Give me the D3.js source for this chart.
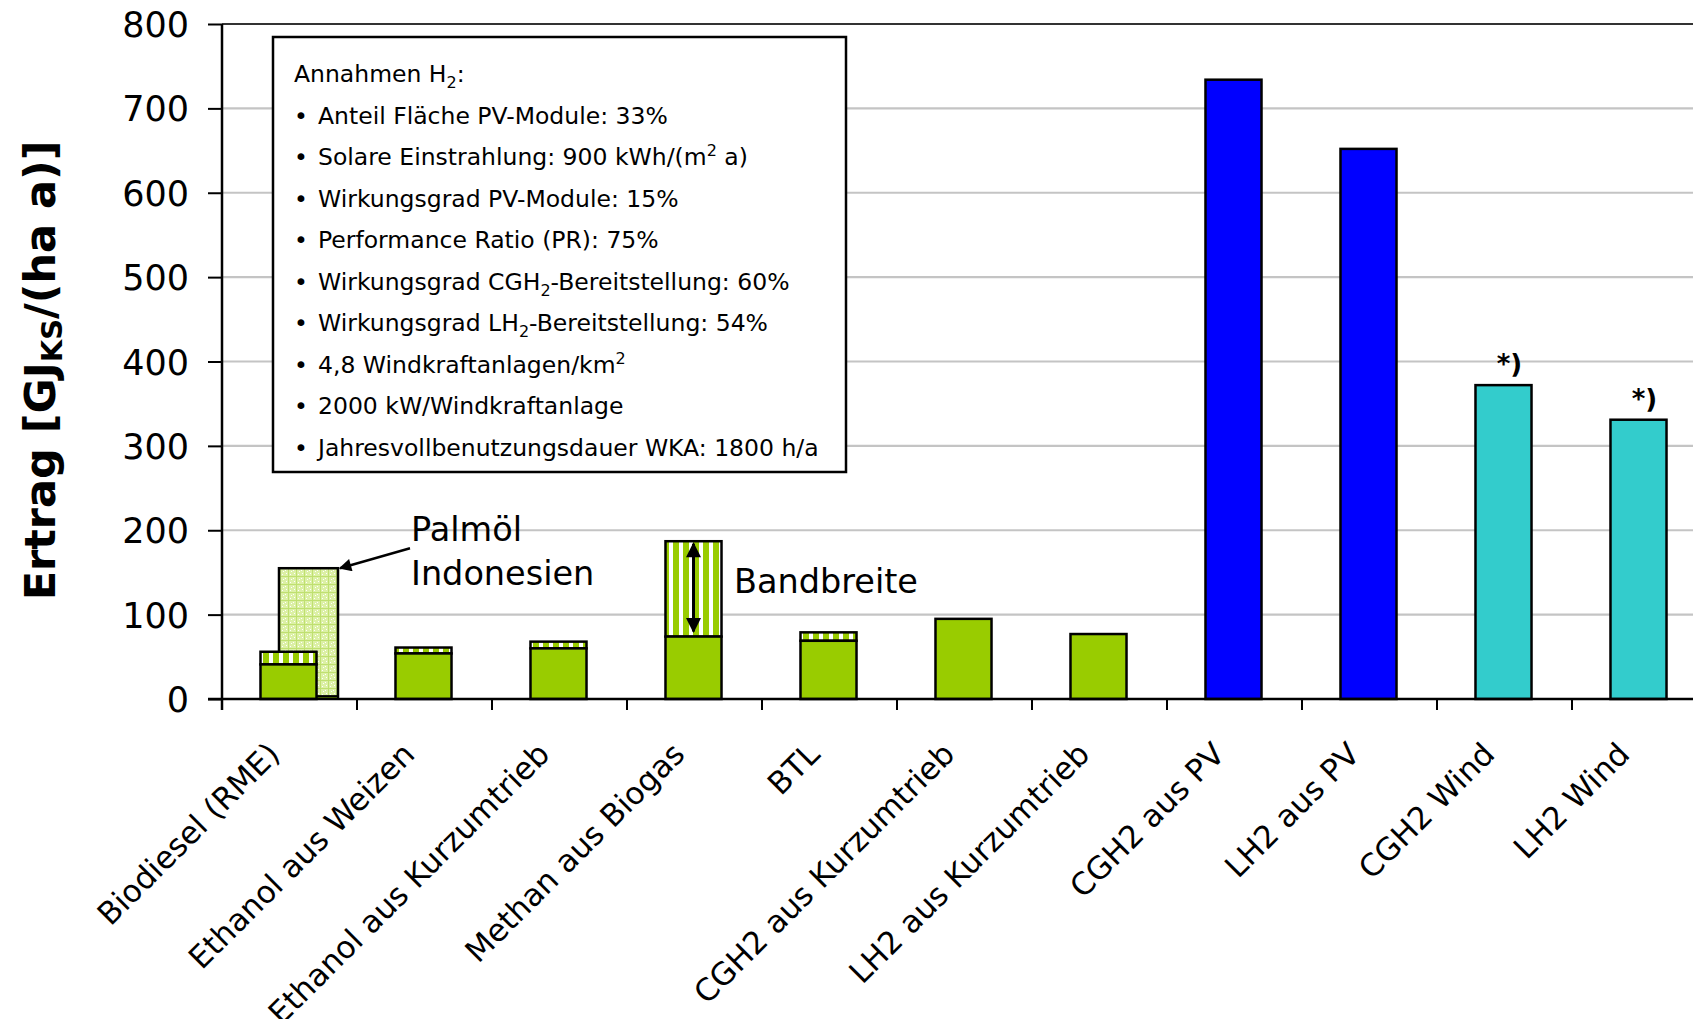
<!DOCTYPE html>
<html>
<head>
<meta charset="utf-8">
<script src="https://cdn.jsdelivr.net/npm/d3@7"></script>
<style>
  body { margin: 0; background: #fff; }
  text { font-family: "DejaVu Sans", Verdana, sans-serif; fill: #000; }
</style>
</head>
<body>
<svg width="1693" height="1019"></svg>
<script>
// data
var categories = ["Biodiesel (RME)", "Ethanol aus Weizen", "Ethanol aus Kurzumtrieb", "Methan aus Biogas", "BTL",
                  "CGH2 aus Kurzumtrieb", "LH2 aus Kurzumtrieb", "CGH2 aus PV", "LH2 aus PV", "CGH2 Wind", "LH2 Wind"];
var baseValues = [41, 54, 60, 74, 69, 95, 77, 734, 652, 372, 331];
var rangeTops  = [56, 61, 68, 187, 79, null, null, null, null, null, null];
var barGroups  = ["bio", "bio", "bio", "bio", "bio", "bio", "bio", "pv", "pv", "wind", "wind"];
var footnotes  = ["", "", "", "", "", "", "", "", "", "*)", "*)"];
var palmCategory = ["Biodiesel (RME)"];
var palmBase     = [3];
var palmTop      = [155];
var yTicks = [0, 100, 200, 300, 400, 500, 600, 700, 800];
var assumptionTitle = [["Annahmen H"], ["2", "sub"], [":"]];
var assumptions = [
  [["Anteil Fläche PV-Module: 33%"]],
  [["Solare Einstrahlung: 900 kWh/(m"], ["2", "sup"], [" a)"]],
  [["Wirkungsgrad PV-Module: 15%"]],
  [["Performance Ratio (PR): 75%"]],
  [["Wirkungsgrad CGH"], ["2", "sub"], ["-Bereitstellung: 60%"]],
  [["Wirkungsgrad LH"], ["2", "sub"], ["-Bereitstellung: 54%"]],
  [["4,8 Windkraftanlagen/km"], ["2", "sup"]],
  [["2000 kW/Windkraftanlage"]],
  [["Jahresvollbenutzungsdauer WKA: 1800 h/a"]]
];

var colors = { bio: "#99cc00", pv: "#0000ff", wind: "#33cccc" };

var svg = d3.select("svg");
var LEFT = 222, TOP = 24, BOTTOM = 699, STEP = 135;

var x = d3.scaleBand().domain(categories).range([LEFT, LEFT + STEP * categories.length]).padding(0);
var y = d3.scaleLinear().domain([0, 800]).range([BOTTOM, TOP]);
var barW = x.bandwidth() * 0.415;
var cx = function(c){ return x(c) + x.bandwidth() / 2 - 1; };

// patterns
var defs = svg.append("defs");
var stripes = defs.append("pattern").attr("id", "stripes")
  .attr("patternUnits", "userSpaceOnUse").attr("width", 10).attr("height", 10);
stripes.append("rect").attr("width", 10).attr("height", 10).style("fill", "#fff");
stripes.append("rect").attr("x", 3).attr("width", 6).attr("height", 10).style("fill", colors.bio);

var palm = defs.append("pattern").attr("id", "palm")
  .attr("patternUnits", "userSpaceOnUse").attr("width", 8).attr("height", 8);
palm.append("rect").attr("width", 8).attr("height", 8).style("fill", "#dcf0a6");
palm.append("rect").attr("width", 8).attr("height", 1).style("fill", "#bfe070");
palm.append("rect").attr("width", 1).attr("height", 8).style("fill", "#bfe070");
[[3, 3], [6, 5], [2, 6], [5, 2]].forEach(function(p){
  palm.append("rect").attr("x", p[0]).attr("y", p[1]).attr("width", 1).attr("height", 1).style("fill", "#fff");
});

defs.append("marker").attr("id", "head")
  .attr("viewBox", "0 0 10 10").attr("refX", 9).attr("refY", 5)
  .attr("markerWidth", 7).attr("markerHeight", 5).attr("markerUnits", "strokeWidth")
  .attr("orient", "auto-start-reverse")
  .append("path").attr("d", "M0,0 L10,5 L0,10 Z").style("fill", "#000");

// grid
svg.append("g").selectAll("line")
  .data(yTicks.filter(function(d){ return d > 0; }))
  .enter().append("line")
    .attr("x1", LEFT).attr("x2", 1693)
    .attr("y1", function(d){ return y(d); }).attr("y2", function(d){ return y(d); })
    .style("stroke", function(d){ return d === 800 ? "#333" : "#c4c4c4"; })
    .style("stroke-width", 2.2);

// y axis
var yAxis = svg.append("g").attr("transform", "translate(" + LEFT + ",0)")
  .call(d3.axisLeft(y).tickValues(yTicks).tickSize(14).tickPadding(19));
yAxis.select(".domain").remove();
yAxis.selectAll(".tick line").style("stroke", "#000").style("stroke-width", 2);
yAxis.selectAll(".tick text").style("font-size", "35px").style("font-family", "DejaVu Sans").attr("dy", "0.36em");

svg.append("text")
  .attr("transform", "translate(55," + ((TOP + BOTTOM) / 2 + 9) + ") rotate(-90)")
  .attr("text-anchor", "middle")
  .style("font-size", "43px").style("font-weight", "bold")
  .call(function(t){
    t.append("tspan").text("Ertrag [GJ");
    t.append("tspan").text("KS").style("font-size", "29px").attr("dy", 7);
    t.append("tspan").text("/(ha a)]").attr("dy", -7);
  });

// Palmöl bar (behind biodiesel)
palmCategory.forEach(function(c, i){
  var px = cx(c) - 9.5;
  svg.append("rect")
    .attr("x", px).attr("y", y(palmTop[i])).attr("width", 59).attr("height", y(palmBase[i]) - y(palmTop[i]))
    .style("fill", "url(#palm)").style("stroke", "#000").style("stroke-width", 2.5);
  svg.append("rect")
    .attr("x", px).attr("y", y(palmBase[i])).attr("width", 59).attr("height", y(0) - y(palmBase[i]))
    .style("fill", colors.bio).style("stroke", "#000").style("stroke-width", 2);
  var ex = px + 59 + 2, ey = y(palmTop[i]);
  svg.append("line")
    .attr("x1", ex + 70).attr("y1", ey - 20).attr("x2", ex).attr("y2", ey)
    .style("stroke", "#000").style("stroke-width", 2.5).attr("marker-end", "url(#head)");
  svg.append("text").attr("x", 411).attr("y", 541).style("font-size", "33.5px").text("Palmöl");
  svg.append("text").attr("x", 411).attr("y", 585).style("font-size", "33.5px").text("Indonesien");
});

// range bars
categories.forEach(function(c, i){
  if (rangeTops[i] == null) return;
  svg.append("rect")
    .attr("x", cx(c) - barW / 2).attr("y", y(rangeTops[i]))
    .attr("width", barW).attr("height", y(baseValues[i]) - y(rangeTops[i]))
    .style("fill", "url(#stripes)").style("stroke", "#000").style("stroke-width", 2.5);
});

// base bars
svg.append("g").selectAll("rect")
  .data(categories)
  .enter().append("rect")
    .attr("x", function(c){ return cx(c) - barW / 2; })
    .attr("y", function(c, i){ return y(baseValues[i]); })
    .attr("width", barW)
    .attr("height", function(c, i){ return y(0) - y(baseValues[i]); })
    .style("fill", function(c, i){ return colors[barGroups[i]]; })
    .style("stroke", "#000").style("stroke-width", 2.5);

// footnote marks
svg.append("g").selectAll("text")
  .data(categories.filter(function(c, i){ return footnotes[i]; }))
  .enter().append("text")
    .attr("x", function(c){ return cx(c) + 6; })
    .attr("y", function(c){ return y(baseValues[categories.indexOf(c)]) - 12; })
    .attr("text-anchor", "middle")
    .style("font-size", "26px").style("font-weight", "bold")
    .text(function(c){ return footnotes[categories.indexOf(c)]; });

// Bandbreite double arrow
var mi = 3;
svg.append("line")
  .attr("x1", cx(categories[mi])).attr("x2", cx(categories[mi]))
  .attr("y1", y(rangeTops[mi] - 3)).attr("y2", y(baseValues[mi] + 6))
  .style("stroke", "#000").style("stroke-width", 3)
  .attr("marker-start", "url(#head)").attr("marker-end", "url(#head)");
svg.append("text").attr("x", 734).attr("y", 593).style("font-size", "33.5px").text("Bandbreite");

// x axis
svg.append("line").attr("x1", 208).attr("x2", 1693).attr("y1", BOTTOM).attr("y2", BOTTOM)
  .style("stroke", "#000").style("stroke-width", 2.5);
svg.append("line").attr("x1", LEFT).attr("x2", LEFT).attr("y1", TOP).attr("y2", BOTTOM + 11)
  .style("stroke", "#000").style("stroke-width", 2.5);
svg.append("g").selectAll("line")
  .data(categories.slice(1))
  .enter().append("line")
    .attr("x1", function(c){ return x(c); }).attr("x2", function(c){ return x(c); })
    .attr("y1", BOTTOM).attr("y2", BOTTOM + 11)
    .style("stroke", "#000").style("stroke-width", 2);

svg.append("g").selectAll("text")
  .data(categories)
  .enter().append("text")
    .attr("transform", function(c){ return "translate(" + (cx(c) - 7) + "," + (BOTTOM + 57) + ") rotate(-45)"; })
    .attr("text-anchor", "end")
    .style("font-size", "31px")
    .text(function(c){ return c; });

// assumptions box
svg.append("rect").attr("x", 273).attr("y", 37).attr("width", 573).attr("height", 435)
  .style("fill", "#fff").style("stroke", "#000").style("stroke-width", 2.5);

var writeLine = function(parent, segs){
  segs.forEach(function(s){
    var t = parent.append("tspan").text(s[0]);
    if (s[1] === "sub") t.style("font-size", "16px").attr("dy", 6);
    else if (s[1] === "sup") t.style("font-size", "16px").attr("dy", -9);
    else if (t.node().previousSibling && t.node().previousSibling.getAttribute("dy")) {
      t.attr("dy", -parseFloat(t.node().previousSibling.getAttribute("dy")));
    }
  });
};

var title = svg.append("text").attr("x", 294).attr("y", 82).style("font-size", "23.5px");
writeLine(title, assumptionTitle);
assumptions.forEach(function(segs, i){
  var yy = 123.5 + 41.5 * i;
  svg.append("text").attr("x", 294).attr("y", yy).style("font-size", "23.5px").text("•");
  var t = svg.append("text").attr("x", 318).attr("y", yy).style("font-size", "23.5px");
  writeLine(t, segs);
});
</script>
</body>
</html>
